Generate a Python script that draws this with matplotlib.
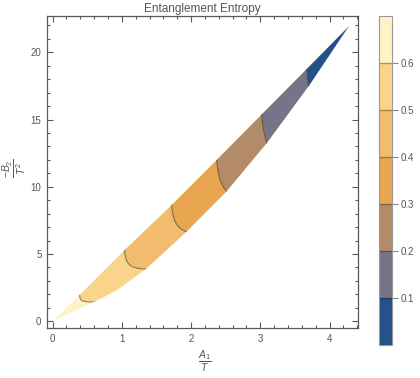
import numpy as np
import matplotlib
matplotlib.use("Agg")
import matplotlib.pyplot as plt
from matplotlib.patches import PathPatch
from matplotlib.path import Path
from matplotlib.ticker import MultipleLocator, FormatStrFormatter

plt.rcParams['font.family'] = ['Liberation Sans', 'DejaVu Sans']
plt.rcParams['mathtext.fontset'] = 'custom'
plt.rcParams['mathtext.rm'] = 'Liberation Sans'
plt.rcParams['mathtext.it'] = 'Liberation Sans:italic'

# ---- data ----
upper_x = [0.0, 0.39, 1.04, 1.72, 2.37, 2.94, 3.67, 4.28]
upper_y = [0.0, 1.95, 5.30, 8.65, 12.0, 14.97, 18.76, 21.95]
lower_x = [0.0, 0.73, 0.97, 1.36, 1.91, 2.51, 3.09, 3.71, 4.28]
lower_y = [0.0, 1.76, 2.45, 3.94, 6.54, 9.64, 13.23, 17.57, 21.95]

levels = [0.0, 0.1, 0.2, 0.3, 0.4, 0.5, 0.6, 0.7]
boundary_levels = [0.6, 0.5, 0.4, 0.3, 0.2, 0.1]
boundary_upper_x = [0.39, 1.04, 1.72, 2.37, 3.02, 3.67]   # where each level line meets upper edge
origin_value = 0.7
tip_value = 0.0
colors = ['#255189', '#777487', '#b48b69', '#e9a651', '#f2bc6f', '#fbd48c', '#fef3c5']
cbar_ticks = [0.1, 0.2, 0.3, 0.4, 0.5, 0.6]
x_major = [0, 1, 2, 3, 4]
y_major = [0, 5, 10, 15, 20]

# ---- field construction (level lines bend from vertical to horizontal) ----
r, p = 3.7, 8.0
def corner_measure(x, y):
    xx = np.maximum(x, 1e-6)
    vv = np.maximum(np.asarray(y) / r, 1e-6)
    return (xx ** -p + vv ** -p) ** (-1.0 / p)

bx = np.array(boundary_upper_x)
m_b = corner_measure(bx, np.interp(bx, upper_x, upper_y))
m_nodes = np.concatenate([[0.0], m_b, [4.4]])
e_nodes = np.concatenate([[origin_value], boundary_levels, [tip_value]])

gx = np.linspace(0, 4.4, 900)
gy = np.linspace(0, 22.6, 900)
X, Y = np.meshgrid(gx, gy)
M = corner_measure(X, Y)
E = np.interp(M, m_nodes, e_nodes)
E = np.clip(E, 0.001, 0.699)

fig = plt.figure(figsize=(4.2, 3.78), dpi=100)
ax = fig.add_axes([47/420, 1-328/378, 311/420, 312/378])
cax = fig.add_axes([379/420, 1-345/378, 13/420, 329/378])

poly = list(zip(upper_x, upper_y)) + list(zip(lower_x[::-1], lower_y[::-1]))
patch = PathPatch(Path(poly), transform=ax.transData, facecolor='none', edgecolor='none')
ax.add_patch(patch)

cs = ax.contourf(X, Y, E, levels=levels, colors=colors)
cs.set_clip_path(patch)
cl = ax.contour(X, Y, E, levels=sorted(boundary_levels), colors='#333333', linewidths=0.8, alpha=0.6)
cl.set_clip_path(patch)

ax.set_xlim(-0.08, 4.41)
ax.set_ylim(-0.5, 22.7)
ax.set_xticks(x_major)
ax.set_yticks(y_major)
ax.xaxis.set_minor_locator(MultipleLocator(0.2))
ax.yaxis.set_minor_locator(MultipleLocator(1))
frame_c = '#5a5a5a'
ax.tick_params(which='both', direction='in', top=True, right=True, color=frame_c,
               labelcolor='#555555', labelsize=7, width=0.8)
ax.tick_params(which='major', length=4, pad=4)
ax.tick_params(which='minor', length=2.3)
for s in ax.spines.values():
    s.set_color(frame_c)
    s.set_linewidth(0.9)

ax.set_title('Entanglement Entropy', fontsize=8.5, color='#555555', pad=3)
fig.text(205/420, 1-361/378, r'$\dfrac{A_1}{T}$', fontsize=7.5, color='#555555', ha='center', va='center')
fig.text(15/420, 1-168/378, r'$\dfrac{-B_2}{T^2}$', fontsize=7.5, color='#555555', ha='center', va='center', rotation=90)

cb = fig.colorbar(cs, cax=cax, ticks=cbar_ticks)
cb.outline.set_edgecolor('#999999')
cb.outline.set_linewidth(0.8)
cax.yaxis.set_major_formatter(FormatStrFormatter('%.1f'))
cax.tick_params(direction='out', length=4, color='#888888', labelcolor='#555555', labelsize=7, width=0.8, pad=2)
for lv in cbar_ticks:
    cax.axhline(lv, color='#000000', alpha=0.3, lw=1.0)

fig.savefig('out.png', dpi=100)
